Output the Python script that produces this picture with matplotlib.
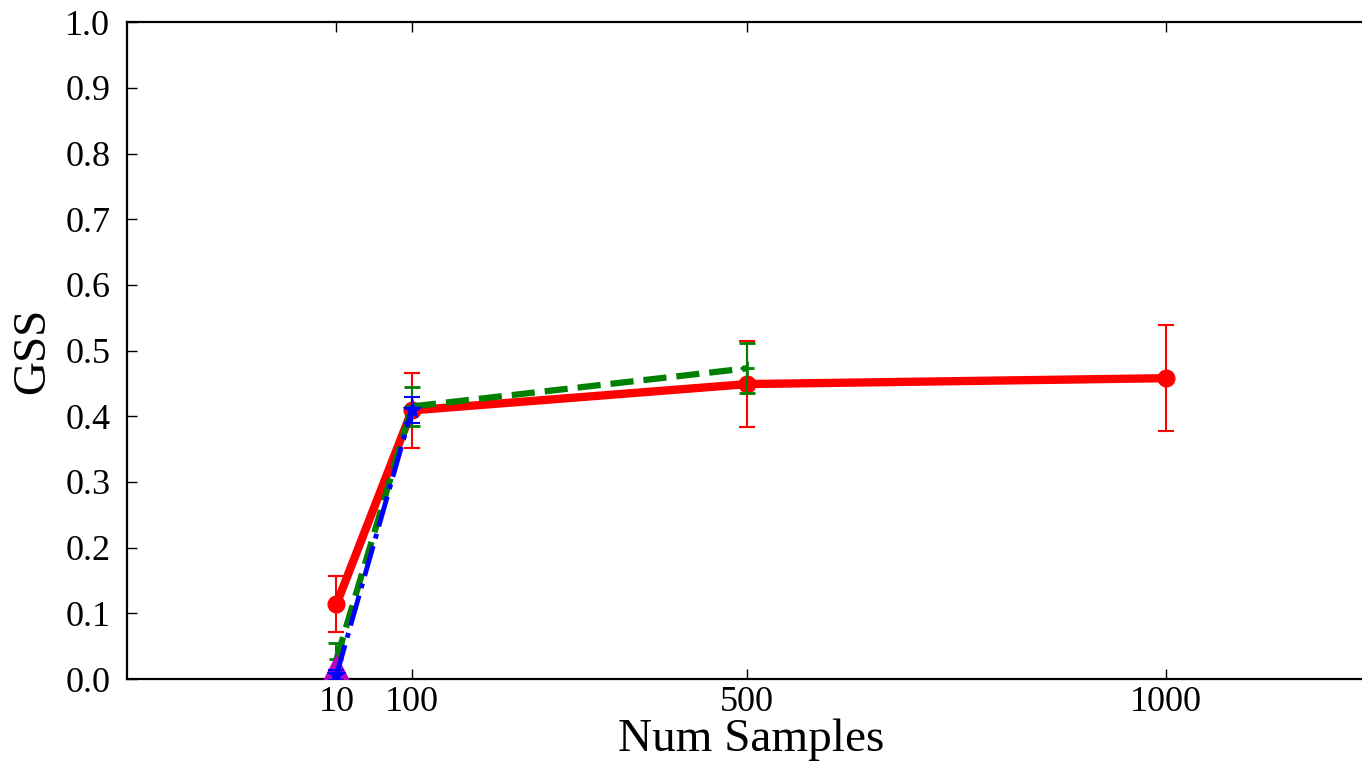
import matplotlib
matplotlib.use("Agg")
import matplotlib.pyplot as plt

# GSS vs number of samples, one series per method
red_x = [10, 100, 500, 1000]
red_y = [0.114, 0.409, 0.449, 0.458]
red_err = [0.043, 0.057, 0.065, 0.081]

green_x = [10, 100, 500]
green_y = [0.03, 0.415, 0.473]
green_err = [0.025, 0.03, 0.038]

blue_x = [10, 100]
blue_y = [0.006, 0.41]
blue_err = [0.008, 0.02]

magenta_x = [10]
magenta_y = [0.003]

x_ticks = [10, 100, 500, 1000]
x_tick_labels = ["10", "100", "500", "1000"]
y_ticks = [0.0, 0.1, 0.2, 0.3, 0.4, 0.5, 0.6, 0.7, 0.8, 0.9, 1.0]

plt.rcParams["font.family"] = ["Liberation Serif", "DejaVu Serif"]

fig = plt.figure(figsize=(13.62, 7.62), dpi=100)
ax = fig.add_axes([0.0932, 0.1089, 0.917, 0.862])

ax.errorbar(red_x, red_y, yerr=red_err, color="red", linestyle="-", linewidth=6,
            marker="o", markersize=12, elinewidth=1.5, capsize=6, capthick=1.5, zorder=3)
ax.errorbar(green_x, green_y, yerr=green_err, color="green", linestyle="--", linewidth=4.5,
            marker="+", markersize=10, markeredgewidth=2, elinewidth=1.5, capsize=6,
            capthick=1.5, zorder=4)
ax.plot(magenta_x, magenta_y, color="m", linestyle="none", marker="^",
        markersize=32, markeredgecolor="m", zorder=4.5)
ax.errorbar(blue_x, blue_y, yerr=blue_err, color="blue", linestyle="-.", linewidth=3.5,
            marker="*", markersize=13, elinewidth=1.5, capsize=6, capthick=1.5, zorder=5)

ax.set_xlim(-240, 1250)
ax.set_ylim(0.0, 1.0)
ax.set_xticks(x_ticks)
ax.set_xticklabels(x_tick_labels)
ax.set_yticks(y_ticks)
ax.set_yticklabels([f"{v:.1f}" for v in y_ticks])

ax.tick_params(axis="both", direction="in", length=7, width=1, top=True, right=True,
               labelsize=26)
ax.tick_params(axis="x", pad=5)
ax.tick_params(axis="y", pad=12)
for spine in ax.spines.values():
    spine.set_linewidth(1.6)

ax.set_xlabel("Num Samples", fontsize=34, labelpad=0)
ax.set_ylabel("GSS", fontsize=34, labelpad=8)

fig.savefig("out.png", dpi=100)
